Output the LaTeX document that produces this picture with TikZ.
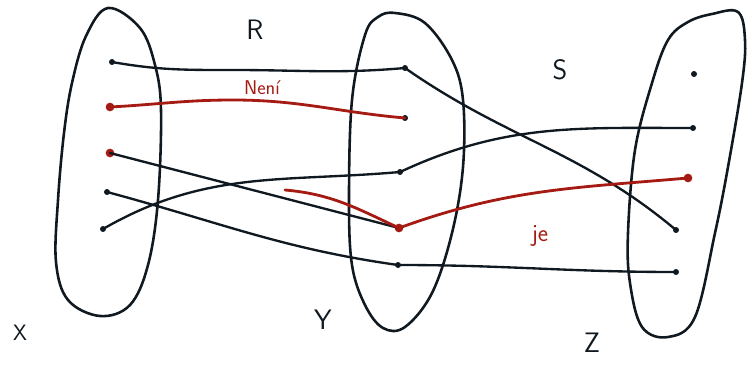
\documentclass[tikz,border=0pt]{standalone}
\usepackage{tikz}
\definecolor{SetInk}{HTML}{101820}
\definecolor{RelRed}{HTML}{A51A12}
\tikzset{
  setline/.style={draw=SetInk,line width=2.2pt,line join=round},
  elem/.style={circle,fill=SetInk,inner sep=0pt,minimum size=1.8mm},
  elemred/.style={elem,fill=RelRed,minimum size=2.6mm},
  pair/.style={SetInk,line width=2pt,line cap=round},
  pairred/.style={pair,RelRed,line width=2.4pt},
  setname/.style={text=SetInk,font=\sffamily\fontsize{24}{28}\selectfont},
  note/.style={text=RelRed,font=\sffamily\fontsize{17}{20}\selectfont},
}

\begin{document}
\begin{tikzpicture}[x=.03cm,y=-.03cm]
    \useasboundingbox (0,0) rectangle (750,367);

    % the three sets
    \draw[setline] plot[smooth cycle,tension=.6] coordinates {(108,8) (140,28) (155,65) (161,110)
      (158,200) (148,265) (130,305) (100,316) (68,300) (56,262) (58,200) (64,133) (72,83) (86,36)};
    \draw[setline] plot[smooth cycle,tension=.6] coordinates {(395,13) (425,23) (452,60) (463,100)
      (463,167) (452,233) (432,293) (405,327) (383,328) (365,305) (352,265) (349,200) (352,100)
      (365,35) (378,17)};
    \draw[setline] plot[smooth cycle,tension=.6] coordinates {(712,14) (738,12) (745,40) (742,83)
      (728,167) (715,233) (695,317) (668,337) (642,327) (630,283) (628,233) (635,150) (652,83)
      (668,40) (688,22)};

    \node[setname,font=\sffamily\fontsize{19}{22}\selectfont] (xname) at (20,333) {X};
    \node[setname] (yname) at (323,320) {Y};
    \node[setname] (zname) at (592,343) {Z};
    \node[setname] (rname) at (255,30) {R};
    \node[setname] (sname) at (560,70) {S};

    % elements
    \node[elem] (x1) at (112,62) {};
    \node[elemred] (x2) at (110,107) {};
    \node[elemred] (x3) at (110,153) {};
    \node[elem] (x4) at (107,192) {};
    \node[elem] (x5) at (103,229) {};

    \node[elem] (y1) at (405,68) {};
    \node[elem] (y2) at (405,118) {};
    \node[elem] (y3) at (400,172) {};
    \node[elemred] (y4) at (399,228) {};
    \node[elem] (y5) at (398,265) {};

    \node[elem] (z1) at (694,74) {};
    \node[elem] (z2) at (693,128) {};
    \node[elemred] (z3) at (688,178) {};
    \node[elem] (z4) at (676,230) {};
    \node[elem] (z5) at (676,272) {};

    % R
    \draw[pair] (x1.center) to[out=-10,in=180] (233,70) to[out=0,in=185] (y1.center);
    \draw[pairred] (x2.center) to[out=3,in=180] (233,100) to[out=0,in=175] (y2.center);
    \draw[pair] (x3.center) -- (y4.center);
    \draw[pairred] (285,190) to[out=-5,in=155] (y4.center);
    \draw[pair] (x4.center) to[out=-15,in=172] (y5.center);
    \draw[pair] (x5.center) to[out=30,in=185] (y3.center);
    \node[note] (nenilabel) at (262,88) {Není};

    % S
    \draw[pair] (y1.center) to[out=-35,in=140] (z4.center);
    \draw[pair] (y3.center) to[out=25,in=180] (z2.center);
    \draw[pairred] (y4.center) to[out=20,in=185] (z3.center);
    \draw[pair] (y5.center) to[out=0,in=180] (z5.center);
    \node[note,font=\sffamily\fontsize{21}{24}\selectfont] (jelabel) at (540,236) {je};
  \end{tikzpicture}
\end{document}
